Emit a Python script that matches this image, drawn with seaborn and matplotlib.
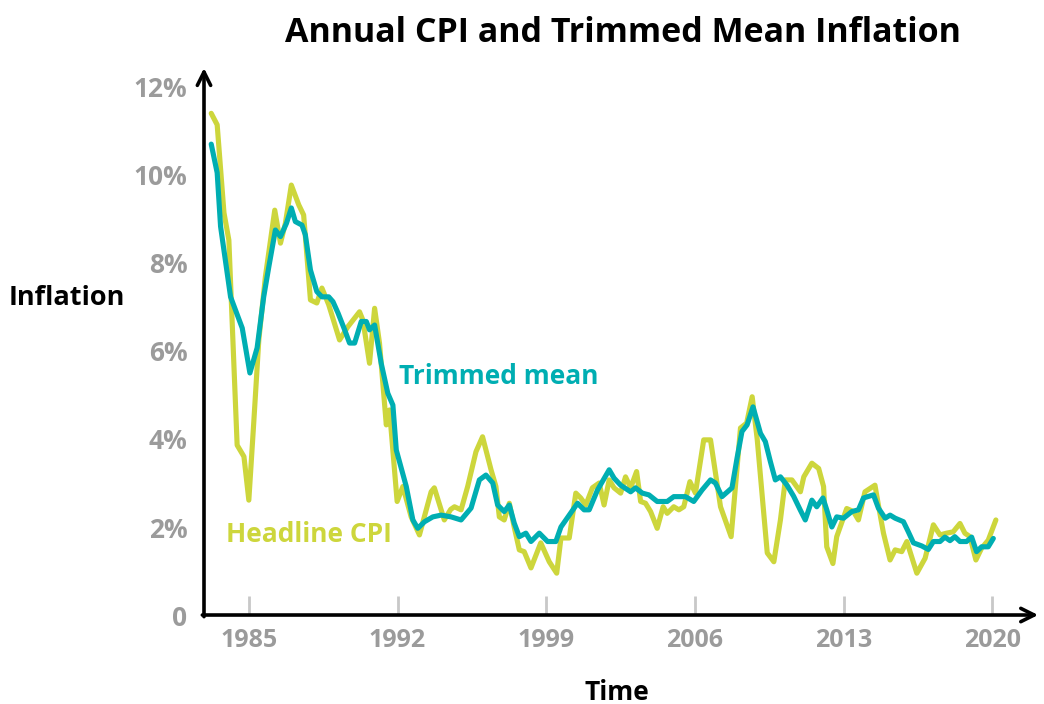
import matplotlib
matplotlib.use("Agg")
import matplotlib.pyplot as plt
import seaborn as sns
import pandas as pd

TITLE = "Annual CPI and Trimmed Mean Inflation"

# headline CPI (decimal year, % y/y)
cpi_year = [1983.23, 1983.51, 1983.83, 1984.06, 1984.45, 1984.77, 1985.0, 1985.23,
            1985.47, 1985.78, 1986.22, 1986.49, 1986.72, 1987.0, 1987.35, 1987.58,
            1987.9, 1988.2, 1988.44, 1988.76, 1989.27, 1989.66, 1990.21, 1990.37,
            1990.68, 1990.92, 1991.15, 1991.47, 1991.62, 1991.98, 1992.25, 1992.64,
            1993.03, 1993.58, 1993.73, 1994.2, 1994.5, 1994.68, 1994.99, 1995.3,
            1995.69, 1996.0, 1996.4, 1996.63, 1996.79, 1997.02, 1997.26, 1997.49,
            1997.73, 1997.96, 1998.28, 1998.74, 1999.14, 1999.49, 1999.69, 2000.08,
            2000.39, 2000.62, 2000.86, 2001.17, 2001.49, 2001.72, 2001.96, 2002.19,
            2002.5, 2002.73, 2002.97, 2003.25, 2003.44, 2003.67, 2003.91, 2004.22,
            2004.5, 2004.69, 2005.0, 2005.24, 2005.47, 2005.76, 2006.02, 2006.41,
            2006.73, 2007.2, 2007.7, 2008.14, 2008.43, 2008.69, 2008.93, 2009.4,
            2009.71, 2010.02, 2010.25, 2010.56, 2010.96, 2011.12, 2011.5, 2011.82,
            2012.05, 2012.2, 2012.49, 2012.67, 2013.14, 2013.46, 2013.69, 2014.0,
            2014.47, 2014.63, 2014.87, 2015.18, 2015.42, 2015.73, 2015.97, 2016.44,
            2016.83, 2017.22, 2017.53, 2017.84, 2018.15, 2018.47, 2018.7, 2018.94,
            2019.22, 2019.49, 2019.8, 2020.16]
cpi_value = [11.4, 11.14, 9.14, 8.52, 3.86, 3.6, 2.61, 4.36,
             6.25, 7.69, 9.2, 8.45, 8.9, 9.77, 9.32, 9.09,
             7.16, 7.09, 7.43, 7.05, 6.25, 6.55, 6.89, 6.7,
             5.72, 6.97, 6.18, 4.32, 4.66, 2.58, 2.92, 2.23,
             1.82, 2.8, 2.89, 2.16, 2.4, 2.46, 2.39, 2.92,
             3.71, 4.05, 3.3, 2.92, 2.23, 2.16, 2.54, 2.0,
             1.48, 1.44, 1.07, 1.64, 1.21, 0.95, 1.75, 1.75,
             2.77, 2.66, 2.5, 2.89, 3.0, 2.5, 3.07, 2.89,
             2.77, 3.14, 2.89, 3.26, 2.58, 2.54, 2.35, 1.97,
             2.46, 2.31, 2.46, 2.39, 2.46, 3.03, 2.77, 3.98,
             3.98, 2.46, 1.78, 4.25, 4.36, 4.96, 3.98, 1.41,
             1.21, 2.16, 3.07, 3.07, 2.8, 3.14, 3.45, 3.33,
             2.92, 1.55, 1.17, 1.78, 2.42, 2.35, 2.16, 2.8,
             2.95, 2.5, 1.86, 1.25, 1.48, 1.44, 1.67, 0.95,
             1.29, 2.05, 1.82, 1.86, 1.89, 2.08, 1.86, 1.78,
             1.25, 1.52, 1.7, 2.16]

# trimmed mean
tm_year = [1983.23, 1983.51, 1983.67, 1984.14, 1984.69, 1985.05, 1985.39, 1985.7,
           1985.94, 1986.25, 1986.49, 1986.77, 1987.0, 1987.19, 1987.5, 1987.66,
           1987.9, 1988.2, 1988.44, 1988.76, 1988.96, 1989.2, 1989.51, 1989.74,
           1989.98, 1990.29, 1990.53, 1990.68, 1990.92, 1991.23, 1991.54, 1991.78,
           1991.94, 1992.41, 1992.72, 1992.95, 1993.27, 1993.66, 1994.05, 1994.52,
           1994.99, 1995.46, 1995.85, 1996.16, 1996.48, 1996.71, 1997.02, 1997.26,
           1997.49, 1997.73, 1998.04, 1998.28, 1998.67, 1999.06, 1999.45, 1999.69,
           2000.08, 2000.47, 2000.78, 2001.02, 2001.41, 2001.96, 2002.19, 2002.5,
           2002.97, 2003.2, 2003.52, 2003.83, 2004.22, 2004.69, 2005.0, 2005.55,
           2005.94, 2006.33, 2006.73, 2006.96, 2007.27, 2007.74, 2007.98, 2008.21,
           2008.45, 2008.73, 2009.08, 2009.31, 2009.55, 2009.78, 2010.02, 2010.33,
           2010.64, 2010.95, 2011.19, 2011.5, 2011.73, 2012.02, 2012.2, 2012.44,
           2012.67, 2012.99, 2013.38, 2013.69, 2013.93, 2014.4, 2014.63, 2014.95,
           2015.18, 2015.42, 2015.81, 2016.04, 2016.28, 2016.67, 2016.98, 2017.22,
           2017.53, 2017.76, 2018.0, 2018.23, 2018.47, 2018.78, 2019.02, 2019.25,
           2019.49, 2019.8, 2020.04]
tm_value = [10.7, 10.05, 8.83, 7.23, 6.52, 5.5, 6.07, 7.23,
            7.91, 8.75, 8.6, 8.9, 9.25, 8.94, 8.86, 8.64,
            7.84, 7.35, 7.23, 7.23, 7.12, 6.86, 6.48, 6.18,
            6.18, 6.67, 6.67, 6.48, 6.59, 5.72, 5.04, 4.77,
            3.75, 2.92, 2.16, 1.97, 2.12, 2.23, 2.27, 2.23,
            2.16, 2.43, 3.07, 3.18, 3.0, 2.5, 2.35, 2.5,
            2.09, 1.78, 1.86, 1.67, 1.86, 1.67, 1.67, 2.0,
            2.27, 2.54, 2.39, 2.39, 2.84, 3.3, 3.11, 2.95,
            2.8, 2.89, 2.77, 2.73, 2.58, 2.58, 2.69, 2.69,
            2.58, 2.84, 3.07, 3.0, 2.69, 2.89, 3.57, 4.17,
            4.32, 4.73, 4.13, 3.94, 3.48, 3.07, 3.14, 2.95,
            2.7, 2.39, 2.16, 2.61, 2.46, 2.66, 2.39, 2.0,
            2.23, 2.2, 2.35, 2.39, 2.66, 2.73, 2.43, 2.2,
            2.27, 2.2, 2.12, 1.89, 1.64, 1.57, 1.49, 1.67,
            1.67, 1.77, 1.69, 1.78, 1.67, 1.67, 1.77, 1.44,
            1.55, 1.55, 1.74]

x_ticks = [1985, 1992, 1999, 2006, 2013, 2020]
y_ticks = [0, 2, 4, 6, 8, 10, 12]
y_tick_labels = ["0", "2%", "4%", "6%", "8%", "10%", "12%"]

CPI_COLOR = "#cdd63c"
TM_COLOR = "#00aeb2"
GREY = "#9b9b9b"

sns.set_theme(style="white")
plt.rcParams["font.family"] = ["Open Sans", "DejaVu Sans"]

cpi = pd.DataFrame({"year": cpi_year, "value": cpi_value})
tm = pd.DataFrame({"year": tm_year, "value": tm_value})

fig = plt.figure(figsize=(10.44, 7.04), dpi=100)
ax = fig.add_axes([0.1954, 0.1264, 0.7990, 0.7770])

sns.lineplot(data=cpi, x="year", y="value", color=CPI_COLOR, lw=3.7,
             estimator=None, sort=False, ax=ax)
sns.lineplot(data=tm, x="year", y="value", color=TM_COLOR, lw=3.7,
             estimator=None, sort=False, ax=ax)

ax.set_xlim(1982.89, 2022.15)
ax.set_ylim(0, 12.43)
ax.set_xlabel("")
ax.set_ylabel("")

for s in ax.spines.values():
    s.set_visible(False)

# axis lines with open arrow heads
arrow = dict(arrowstyle="->", color="black", lw=2.6, mutation_scale=24,
             shrinkA=0, shrinkB=0)
ax.annotate("", xy=(1.0, 0), xytext=(-0.002, 0), xycoords="axes fraction",
            arrowprops=arrow, annotation_clip=False)
ax.annotate("", xy=(0, 1.0), xytext=(0, -0.003), xycoords="axes fraction",
            arrowprops=arrow, annotation_clip=False)

ax.set_xticks(x_ticks)
ax.set_xticklabels([str(t) for t in x_ticks])
ax.set_yticks(y_ticks)
ax.set_yticklabels(y_tick_labels)
ax.tick_params(axis="x", bottom=True, direction="in", length=14, width=2,
               color="#c8c8c8", pad=9, labelsize=18, labelcolor=GREY)
ax.tick_params(axis="y", left=False, length=0, pad=12, labelsize=19,
               labelcolor=GREY)
for lab in ax.get_xticklabels() + ax.get_yticklabels():
    lab.set_fontweight("bold")

ax.text(1992.09, 5.41, "Trimmed mean", color=TM_COLOR, fontsize=19,
        fontweight="bold", va="center", ha="left")
ax.text(1983.92, 1.82, "Headline CPI", color=CPI_COLOR, fontsize=19,
        fontweight="bold", va="center", ha="left")

fig.text(623 / 1044, 1 - 33 / 704, TITLE, ha="center", va="center",
         fontsize=24.5, fontweight="bold", color="black")
fig.text(67 / 1044, 1 - 298 / 704, "Inflation", ha="center", va="center",
         fontsize=19.5, fontweight="bold", color="black")
fig.text(617 / 1044, 1 - 692 / 704, "Time", ha="center", va="center",
         fontsize=19, fontweight="bold", color="black")

fig.savefig("out.png", dpi=100)
